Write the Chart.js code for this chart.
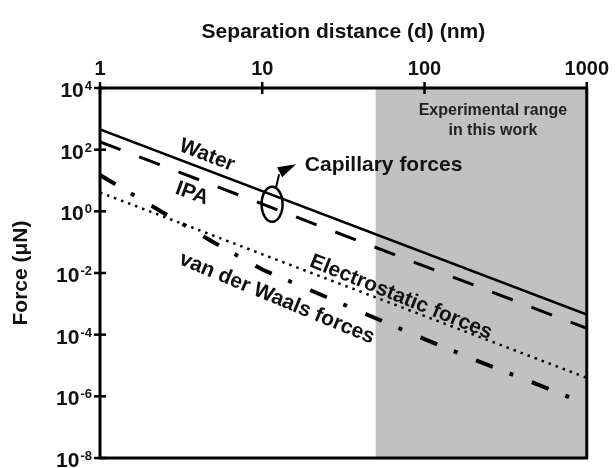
<!DOCTYPE html>
<html>
<head>
<meta charset="utf-8">
<script src="https://cdn.jsdelivr.net/npm/chart.js@4.4.1/dist/chart.umd.min.js"></script>
<style>
  html, body { margin: 0; padding: 0; background: #fff; }
</style>
</head>
<body>
<canvas id="forces" width="616" height="468"></canvas>
<script>
// values (force in uN vs separation in nm)
const distances = [1, 1000];
const waterForce = [450, 4.5e-4];
const ipaForce = [180, 1.6e-4];
const electrostaticForce = [4.1, 4e-6];
const vdwDistances = [1, 2, 5, 10, 20, 50, 100, 200, 500, 1000];
const vdwForce = [15, 1.7, 0.1, 0.013, 2.7e-3, 3.4e-4, 7.2e-5, 1.6e-5, 2.4e-6, 5.6e-7];
const xTicks = [1, 10, 100, 1000];
const yTicks = [1e4, 1e2, 1, 1e-2, 1e-4, 1e-6, 1e-8];
const rangeStart = 50;
const rangeEnd = 1000;

const FONT = "'Liberation Sans', Arial, Helvetica, sans-serif";
const INK = '#111';

function pairs(xs, ys) {
    return xs.map((x, i) => ({ x: x, y: ys[i] }));
}

function rotatedText(ctx, text, px, py, deg, size) {
    ctx.save();
    ctx.translate(px, py);
    ctx.rotate(deg * Math.PI / 180);
    ctx.font = `bold ${size}px ${FONT}`;
    ctx.fillStyle = INK;
    ctx.textAlign = 'center';
    ctx.textBaseline = 'middle';
    ctx.fillText(text, 0, 0);
    ctx.restore();
}

const decorations = {
    id: 'decorations',
    beforeDatasetsDraw(chart) {
        const { ctx, chartArea: a, scales: { x } } = chart;
        const x0 = x.getPixelForValue(rangeStart);
        const x1 = x.getPixelForValue(rangeEnd);
        ctx.save();
        ctx.fillStyle = '#c1c1c1';
        ctx.fillRect(x0, a.top, x1 - x0, a.bottom - a.top);
        ctx.restore();
    },
    afterDatasetsDraw(chart) {
        const { ctx, chartArea: a, scales: { x, y } } = chart;
        ctx.save();

        // frame
        ctx.strokeStyle = '#000';
        ctx.lineWidth = 3;
        ctx.strokeRect(a.left, a.top, a.right - a.left, a.bottom - a.top);

        // tick marks crossing the axes
        ctx.lineWidth = 2.5;
        xTicks.forEach(v => {
            const px = x.getPixelForValue(v);
            ctx.beginPath();
            ctx.moveTo(px, a.top - 6);
            ctx.lineTo(px, a.top + 6);
            ctx.stroke();
        });
        yTicks.forEach(v => {
            const py = y.getPixelForValue(v);
            ctx.beginPath();
            ctx.moveTo(a.left - 6, py);
            ctx.lineTo(a.left + 6, py);
            ctx.stroke();
        });

        // y tick labels with superscript exponents
        ctx.fillStyle = INK;
        ctx.textAlign = 'right';
        ctx.textBaseline = 'alphabetic';
        yTicks.forEach(v => {
            const py = y.getPixelForValue(v);
            const exp = String(Math.round(Math.log10(v)));
            ctx.font = `bold 13px ${FONT}`;
            const w = ctx.measureText(exp).width;
            ctx.fillText(exp, a.left - 8, py + 2);
            ctx.font = `bold 21px ${FONT}`;
            ctx.fillText('10', a.left - 9 - w, py + 9);
        });

        // curve labels
        rotatedText(ctx, 'Water', x.getPixelForValue(4.56), y.getPixelForValue(65), 21, 21);
        rotatedText(ctx, 'IPA', x.getPixelForValue(3.69), y.getPixelForValue(3.8), 20, 21);
        rotatedText(ctx, 'Electrostatic forces', x.getPixelForValue(71.6), y.getPixelForValue(1.65e-3), 22, 21);
        rotatedText(ctx, 'van der Waals forces', x.getPixelForValue(12.3), y.getPixelForValue(1.5e-3), 22.5, 21);

        // capillary marker
        const cx = x.getPixelForValue(11.5);
        const cy = y.getPixelForValue(1.7);
        ctx.lineWidth = 2.5;
        ctx.beginPath();
        ctx.ellipse(cx, cy, 10.5, 17.5, 0, 0, Math.PI * 2);
        ctx.stroke();
        ctx.lineWidth = 2;
        ctx.beginPath();
        ctx.moveTo(cx + 4, cy - 17);
        ctx.lineTo(cx + 7, cy - 30);
        ctx.stroke();
        ctx.fillStyle = '#000';
        ctx.beginPath();
        ctx.moveTo(cx + 24, cy - 40);
        ctx.lineTo(cx + 5, cy - 37);
        ctx.lineTo(cx + 10, cy - 27);
        ctx.closePath();
        ctx.fill();

        ctx.fillStyle = INK;
        ctx.font = `bold 21px ${FONT}`;
        ctx.textAlign = 'left';
        ctx.textBaseline = 'middle';
        ctx.fillText('Capillary forces', x.getPixelForValue(18.3), y.getPixelForValue(31));

        // shaded range caption
        ctx.fillStyle = '#222';
        ctx.font = `bold 16px ${FONT}`;
        ctx.textAlign = 'center';
        ctx.fillText('Experimental range', x.getPixelForValue(264), y.getPixelForValue(1860));
        ctx.fillText('in this work', x.getPixelForValue(264), y.getPixelForValue(417));

        ctx.restore();
    }
};

new Chart(document.getElementById('forces'), {
    type: 'line',
    data: {
        datasets: [{
            label: 'Water',
            data: pairs(distances, waterForce),
            borderColor: '#000',
            borderWidth: 2.5
        }, {
            label: 'IPA',
            data: pairs(distances, ipaForce),
            borderColor: '#000',
            borderWidth: 3,
            borderDash: [22, 20]
        }, {
            label: 'Electrostatic forces',
            data: pairs(distances, electrostaticForce),
            borderColor: '#000',
            borderWidth: 2.5,
            borderDash: [2.5, 5]
        }, {
            label: 'van der Waals forces',
            data: pairs(vdwDistances, vdwForce),
            borderColor: '#000',
            borderWidth: 4,
            borderDash: [18, 18, 4, 20]
        }]
    },
    options: {
        responsive: false,
        animation: false,
        devicePixelRatio: 1,
        layout: { padding: { left: 0, right: 29, top: 0, bottom: 10 } },
        elements: { point: { radius: 0 }, line: { tension: 0 } },
        plugins: { legend: { display: false }, tooltip: { enabled: false } },
        scales: {
            x: {
                type: 'logarithmic',
                position: 'top',
                min: 1,
                max: 1000,
                afterBuildTicks: s => { s.ticks = xTicks.map(v => ({ value: v })); },
                afterFit: s => { s.height = 88; },
                grid: { display: false, drawTicks: false },
                border: { display: false },
                ticks: {
                    color: INK,
                    font: { family: FONT, size: 20, weight: 'bold' },
                    padding: 7,
                    maxRotation: 0,
                    autoSkip: false,
                    callback: v => String(v)
                },
                title: {
                    display: true,
                    text: 'Separation distance (d) (nm)',
                    color: INK,
                    font: { family: FONT, size: 21, weight: 'bold' },
                    padding: { top: 20, bottom: 0 }
                }
            },
            y: {
                type: 'logarithmic',
                min: 1e-8,
                max: 1e4,
                afterBuildTicks: s => { s.ticks = yTicks.map(v => ({ value: v })); },
                afterFit: s => { s.width = 100; },
                grid: { display: false, drawTicks: false },
                border: { display: false },
                ticks: { display: false },
                title: {
                    display: true,
                    text: 'Force (μN)',
                    color: INK,
                    font: { family: FONT, size: 21, weight: 'bold' },
                    padding: { top: 9, bottom: 0 }
                }
            }
        }
    },
    plugins: [decorations]
});
</script>
</body>
</html>
